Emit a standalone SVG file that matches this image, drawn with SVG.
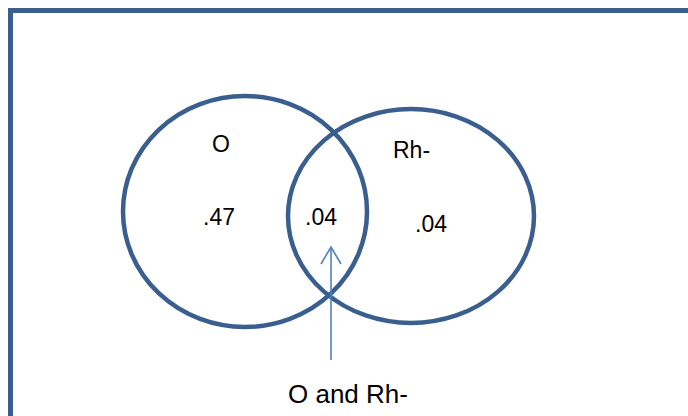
<svg xmlns="http://www.w3.org/2000/svg" width="688" height="416" viewBox="0 0 688 416">
<style>
.frame{fill:none;stroke:#3B5E8C;stroke-width:5}
.set{fill:none;stroke:#3A5F8F;stroke-width:4.5}
.conn{fill:none;stroke:#4F81BD;stroke-width:1.6}
.lbl{font-family:"Liberation Sans",Arial,sans-serif;font-size:23px;fill:#000}
.big{font-size:26px}
</style>
<defs>
<marker id="open" markerUnits="userSpaceOnUse" viewBox="-19 -12 22 24" markerWidth="22" markerHeight="24" refX="0" refY="0" orient="auto">
<path d="M-17,-10 L0,0 L-17,10" fill="none" stroke="#4F81BD" stroke-width="1.6"/>
</marker>
</defs>
<rect width="688" height="416" fill="#fff"/>
<path class="frame" d="M10.5,420 L10.5,10.5 L692,10.5"/>
<g id="set-O">
<ellipse class="set" cx="245" cy="211.5" rx="122" ry="115.5"/>
<text class="lbl" x="212" y="152">O</text>
<text class="lbl" x="203" y="225">.47</text>
</g>
<g id="set-Rh">
<ellipse class="set" cx="411" cy="216" rx="123" ry="107"/>
<text class="lbl" x="393" y="158">Rh-</text>
<text class="lbl" x="415" y="232">.04</text>
</g>
<g id="intersection">
<text class="lbl" x="305" y="225">.04</text>
</g>
<g id="label-both">
<text class="lbl big" x="288" y="403">O and Rh-</text>
</g>
<g id="connectors">
<path class="conn" d="M331,360 L331,247" marker-end="url(#open)"/>
</g>
</svg>
